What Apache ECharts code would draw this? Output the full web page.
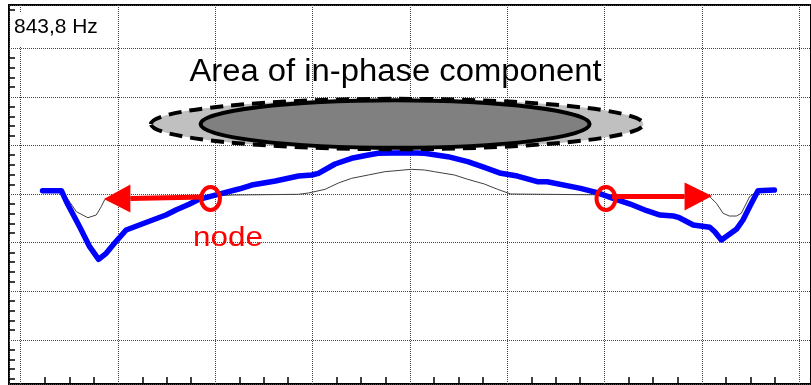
<!DOCTYPE html>
<html><head><meta charset="utf-8">
<script src="https://cdn.jsdelivr.net/npm/echarts@6/dist/echarts.min.js"></script>
<style>html,body{margin:0;padding:0;background:#fff}#c{width:811px;height:385px}</style>
</head><body><div id="c"></div>
<script>
// ---- data (x in grid units: 10 per vertical gridline; y: 10 per horizontal gridline) ----
const blueX = [2.25, 4.19, 4.70, 6.06, 7.09, 8.01, 8.79, 9.64, 10.84, 12.20, 13.56, 14.93, 15.95, 17.31, 18.33, 20.69, 22.42, 23.75, 26.18, 28.56, 29.92, 30.60, 32.31, 34.01, 35.72, 36.74, 39.81, 41.51, 43.90, 45.94, 47.65, 49.35, 51.05, 53.10, 54.12, 57.53, 59.23, 60.59, 62.64, 64.34, 65.71, 67.08, 67.59, 69.12, 70.82, 71.33, 72.01, 73.55, 74.23, 74.91, 75.77, 77.46];
const blueY = [0.70, 0.70, -1.56, -6.71, -10.82, -13.42, -12.18, -10.12, -7.39, -6.36, -5.33, -4.30, -3.27, -2.10, -1.07, 0.16, 1.05, 1.87, 2.70, 3.72, 3.93, 4.28, 6.19, 7.37, 8.05, 8.40, 8.52, 8.40, 7.70, 6.67, 5.51, 4.28, 3.72, 2.55, 2.55, 1.19, 0.29, -0.66, -2.04, -3.42, -4.30, -4.51, -4.77, -6.36, -6.83, -7.74, -9.44, -7.24, -5.33, -2.59, 0.70, 0.84];
const thinX = [2.25, 4.19, 4.63, 5.73, 6.91, 7.77, 8.28, 8.62, 8.96, 11.18, 13.56, 15.27, 17.31, 18.64, 21.71, 28.56, 29.58, 31.29, 32.65, 34.01, 35.72, 37.42, 40.14, 41.51, 42.54, 44.58, 45.94, 47.65, 49.01, 50.37, 59.23, 64.34, 70.82, 71.50, 72.19, 72.83, 73.55, 74.06, 74.91, 75.77, 77.46];
const thinY = [0.70, 0.70, -0.39, -3.62, -4.86, -4.30, -2.59, -1.21, -0.91, -0.86, -1.07, -0.86, -0.66, -0.53, -0.19, -0.04, 0.23, 0.99, 2.28, 3.25, 3.93, 4.61, 5.10, 4.96, 4.61, 3.93, 3.05, 2.08, 0.99, 0.02, -0.14, -0.29, -0.53, -1.89, -3.95, -4.51, -4.51, -3.95, -0.53, 0.70, 0.84];

// annotation anchors in data units
const outerEll = {cx: 38.70, cy: 14.42, ex: 64.00, ey: 19.60};
const innerEll = {cx: 38.48, cy: 14.42, ex: 58.47, ey: 19.32};
const nodeCircles = [{cx: 19.51, cy: -0.91, ex: 20.48, ey: 1.45}, {cx: 60.15, cy: -0.91, ex: 61.12, ey: 1.45}];
const arrows = [
  {sx: 18.84, sy: -0.60, bx: 11.28, by: -0.91, tx: 8.55, ty: -1.01},
  {sx: 60.77, sy: -0.49, bx: 68.23, by: -0.49, tx: 71.05, ty: -0.39}
];
const freqLabel = '843,8 Hz';
const titleLabel = 'Area of in-phase component';
const nodeLabel = 'node';

const zip = (a, b) => a.map((v, i) => [v, b[i]]);

const chart = echarts.init(document.getElementById('c'), null, {renderer: 'canvas'});
const gridLine = {show: true, lineStyle: {color: '#444', width: 1, type: [1, 1]}};
chart.setOption({
  animation: false,
  backgroundColor: '#fff',
  grid: {left: 9, top: 5, width: 806, height: 379, show: true, borderColor: '#000', borderWidth: 2},
  xAxis: {
    type: 'value', min: -1.196, max: 81.22, splitNumber: 8,
    axisLine: {show: false, onZero: false},
    axisTick: {show: false, inside: true},
    minorTick: {show: true, splitNumber: 4, length: 7, lineStyle: {color: '#000', width: 1.5}},
    axisLabel: {show: false},
    splitLine: gridLine
  },
  yAxis: {
    type: 'value', min: -39.07, max: 38.91, splitNumber: 8,
    axisLine: {show: false, onZero: false},
    axisTick: {show: false, inside: true},
    minorTick: {show: true, splitNumber: 5, length: 6, lineStyle: {color: '#000', width: 1.5}},
    axisLabel: {show: false},
    splitLine: gridLine
  },
  series: [
    {type: 'line', data: zip(thinX, thinY), showSymbol: false, symbol: 'none', z: 3,
     lineStyle: {color: '#404040', width: 1}},
    {type: 'line', data: zip(blueX, blueY), showSymbol: false, symbol: 'none', z: 4,
     lineStyle: {color: '#0000ff', width: 5.5, cap: 'round', join: 'round'}}
  ]
});

const px = (x, y) => chart.convertToPixel({gridIndex: 0}, [x, y]);
function ell(e) {
  const c = px(e.cx, e.cy), r = px(e.ex, e.ey);
  return {cx: c[0], cy: c[1], rx: Math.abs(r[0] - c[0]), ry: Math.abs(c[1] - r[1])};
}
const g = [];
g.push({type: 'ellipse', z: 10, shape: ell(outerEll), style: {fill: '#c0c0c0', stroke: '#000', lineWidth: 4, lineDash: [13, 8]}});
g.push({type: 'ellipse', z: 11, shape: ell(innerEll), style: {fill: '#808080', stroke: '#000', lineWidth: 4}});
const headHalf = 14;
arrows.forEach(a => {
  const s = px(a.sx, a.sy), b = px(a.bx, a.by), t = px(a.tx, a.ty);
  g.push({type: 'line', z: 20, shape: {x1: s[0], y1: s[1], x2: b[0], y2: b[1]}, style: {stroke: '#ff0000', lineWidth: 5}});
  g.push({type: 'polygon', z: 20, shape: {points: [[t[0], t[1]], [b[0], b[1] - headHalf], [b[0], b[1] + headHalf]]}, style: {fill: '#ff0000'}});
});
nodeCircles.forEach(c => {
  g.push({type: 'ellipse', z: 21, shape: ell(c), style: {fill: 'none', stroke: '#ff0000', lineWidth: 4}});
});
// label box
g.push({type: 'rect', z: 30, shape: {x: 10, y: 13, width: 95, height: 33}, style: {fill: '#fff'}});
g.push({type: 'text', z: 31, x: 14, y: 27.6, scaleX: 1.02, style: {text: freqLabel, x: 0, y: 0, font: '20.5px "Liberation Sans", Arial, sans-serif', fill: '#000', align: 'left', verticalAlign: 'middle'}});
g.push({type: 'text', z: 31, x: 395.5, y: 72.1, scaleX: 1.058, style: {text: titleLabel, x: 0, y: 0, font: '31px "Liberation Sans", Arial, sans-serif', fill: '#000', align: 'center', verticalAlign: 'middle'}});
g.push({type: 'text', z: 31, x: 228, y: 238.6, scaleX: 1.12, style: {text: nodeLabel, x: 0, y: 0, font: '28px "Liberation Sans", Arial, sans-serif', fill: '#ff0000', align: 'center', verticalAlign: 'middle'}});
chart.setOption({graphic: {elements: g}});
</script>
</body></html>
